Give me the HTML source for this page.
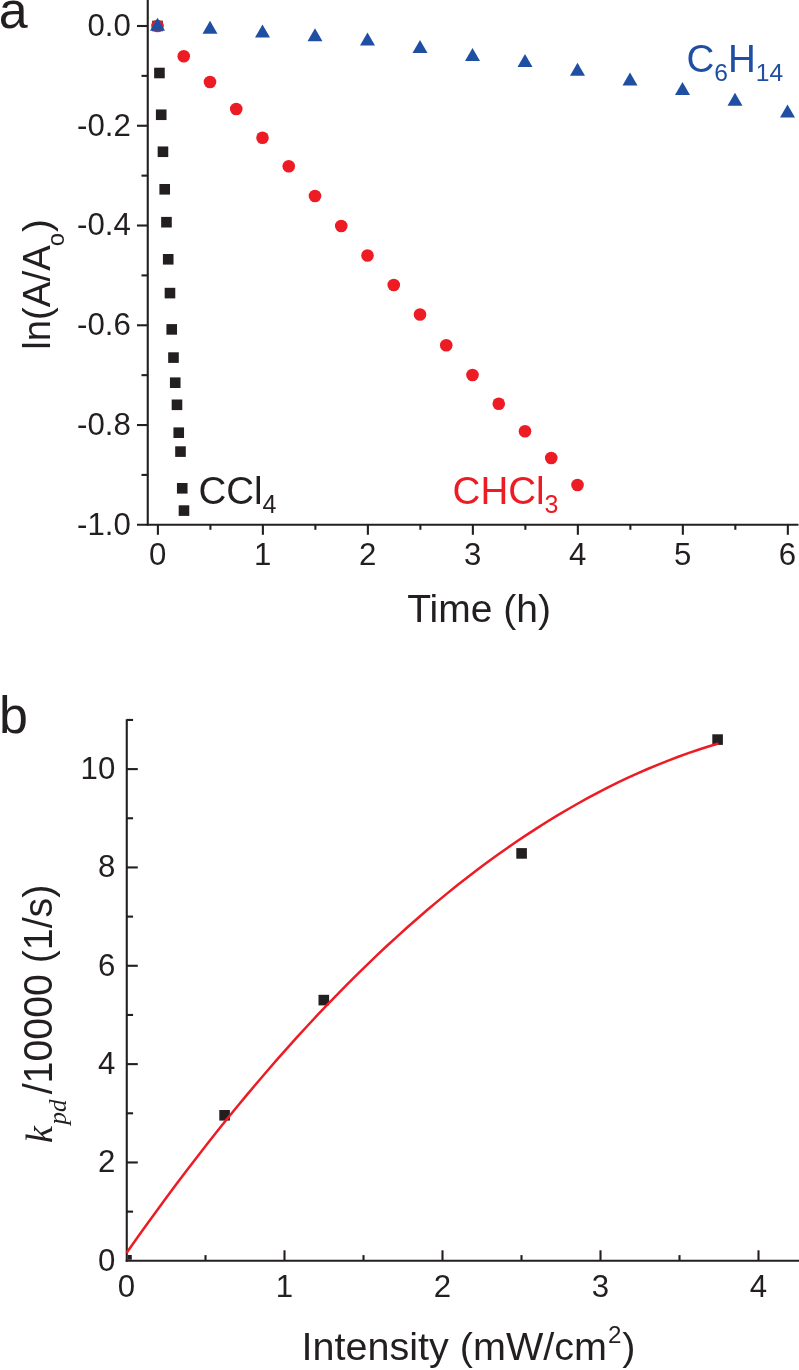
<!DOCTYPE html>
<html><head><meta charset="utf-8"><title>Figure</title>
<style>
html,body{margin:0;padding:0;background:#fff;}
svg{display:block;font-family:"Liberation Sans", Arial, Helvetica, sans-serif;will-change:transform;}
</style></head><body>
<svg width="799" height="1370" viewBox="0 0 799 1370">
<rect width="799" height="1370" fill="#fff"/>
<line x1="147.75" y1="0.00" x2="147.75" y2="525.82" stroke="#231f20" stroke-width="2.1" />
<line x1="137.00" y1="524.77" x2="798.50" y2="524.77" stroke="#231f20" stroke-width="2.1" />
<line x1="137.00" y1="26.00" x2="147.75" y2="26.00" stroke="#231f20" stroke-width="2.1" />
<line x1="141.50" y1="75.88" x2="147.75" y2="75.88" stroke="#231f20" stroke-width="2.1" />
<line x1="137.00" y1="125.76" x2="147.75" y2="125.76" stroke="#231f20" stroke-width="2.1" />
<line x1="141.50" y1="175.64" x2="147.75" y2="175.64" stroke="#231f20" stroke-width="2.1" />
<line x1="137.00" y1="225.52" x2="147.75" y2="225.52" stroke="#231f20" stroke-width="2.1" />
<line x1="141.50" y1="275.40" x2="147.75" y2="275.40" stroke="#231f20" stroke-width="2.1" />
<line x1="137.00" y1="325.28" x2="147.75" y2="325.28" stroke="#231f20" stroke-width="2.1" />
<line x1="141.50" y1="375.16" x2="147.75" y2="375.16" stroke="#231f20" stroke-width="2.1" />
<line x1="137.00" y1="425.04" x2="147.75" y2="425.04" stroke="#231f20" stroke-width="2.1" />
<line x1="141.50" y1="474.92" x2="147.75" y2="474.92" stroke="#231f20" stroke-width="2.1" />
<line x1="157.90" y1="524.77" x2="157.90" y2="534.80" stroke="#231f20" stroke-width="2.1" />
<line x1="210.40" y1="524.77" x2="210.40" y2="529.80" stroke="#231f20" stroke-width="2.1" />
<line x1="262.89" y1="524.77" x2="262.89" y2="534.80" stroke="#231f20" stroke-width="2.1" />
<line x1="315.38" y1="524.77" x2="315.38" y2="529.80" stroke="#231f20" stroke-width="2.1" />
<line x1="367.88" y1="524.77" x2="367.88" y2="534.80" stroke="#231f20" stroke-width="2.1" />
<line x1="420.38" y1="524.77" x2="420.38" y2="529.80" stroke="#231f20" stroke-width="2.1" />
<line x1="472.87" y1="524.77" x2="472.87" y2="534.80" stroke="#231f20" stroke-width="2.1" />
<line x1="525.37" y1="524.77" x2="525.37" y2="529.80" stroke="#231f20" stroke-width="2.1" />
<line x1="577.86" y1="524.77" x2="577.86" y2="534.80" stroke="#231f20" stroke-width="2.1" />
<line x1="630.36" y1="524.77" x2="630.36" y2="529.80" stroke="#231f20" stroke-width="2.1" />
<line x1="682.85" y1="524.77" x2="682.85" y2="534.80" stroke="#231f20" stroke-width="2.1" />
<line x1="735.34" y1="524.77" x2="735.34" y2="529.80" stroke="#231f20" stroke-width="2.1" />
<line x1="787.84" y1="524.77" x2="787.84" y2="534.80" stroke="#231f20" stroke-width="2.1" />
<text transform="translate(130.80 35.80) scale(1 1.03)" font-size="31.2" text-anchor="end" fill="#231f20" >0.0</text>
<text transform="translate(130.80 135.56) scale(1 1.03)" font-size="31.2" text-anchor="end" fill="#231f20" >-0.2</text>
<text transform="translate(130.80 235.32) scale(1 1.03)" font-size="31.2" text-anchor="end" fill="#231f20" >-0.4</text>
<text transform="translate(130.80 335.08) scale(1 1.03)" font-size="31.2" text-anchor="end" fill="#231f20" >-0.6</text>
<text transform="translate(130.80 434.84) scale(1 1.03)" font-size="31.2" text-anchor="end" fill="#231f20" >-0.8</text>
<text transform="translate(130.80 534.60) scale(1 1.03)" font-size="31.2" text-anchor="end" fill="#231f20" >-1.0</text>
<text transform="translate(157.60 565.30) scale(1 1.03)" font-size="31.2" text-anchor="middle" fill="#231f20" >0</text>
<text transform="translate(262.59 565.30) scale(1 1.03)" font-size="31.2" text-anchor="middle" fill="#231f20" >1</text>
<text transform="translate(367.58 565.30) scale(1 1.03)" font-size="31.2" text-anchor="middle" fill="#231f20" >2</text>
<text transform="translate(472.57 565.30) scale(1 1.03)" font-size="31.2" text-anchor="middle" fill="#231f20" >3</text>
<text transform="translate(577.56 565.30) scale(1 1.03)" font-size="31.2" text-anchor="middle" fill="#231f20" >4</text>
<text transform="translate(682.55 565.30) scale(1 1.03)" font-size="31.2" text-anchor="middle" fill="#231f20" >5</text>
<text transform="translate(787.54 565.30) scale(1 1.03)" font-size="31.2" text-anchor="middle" fill="#231f20" >6</text>
<text transform="translate(-1.30 28.00) scale(1 1.0)" font-size="52" text-anchor="start" fill="#231f20" >a</text>
<text transform="translate(407.20 622.00) scale(1 1.0)" font-size="39.0" text-anchor="start" fill="#231f20" >Time (h)</text>
<text transform="translate(50.1 349.8) rotate(-90)" font-size="38.4" fill="#231f20">ln(A/A<tspan font-size="24" dy="13.6" dx="-1">o</tspan><tspan dy="-13.6" dx="1">)</tspan></text>
<rect x="152.20" y="20.70" width="10.6" height="10.6" fill="#231f20"/>
<rect x="154.15" y="67.70" width="10.6" height="10.6" fill="#231f20"/>
<rect x="155.91" y="109.45" width="10.6" height="10.6" fill="#231f20"/>
<rect x="157.66" y="146.45" width="10.6" height="10.6" fill="#231f20"/>
<rect x="159.41" y="184.00" width="10.6" height="10.6" fill="#231f20"/>
<rect x="161.16" y="216.90" width="10.6" height="10.6" fill="#231f20"/>
<rect x="162.92" y="254.00" width="10.6" height="10.6" fill="#231f20"/>
<rect x="164.67" y="287.80" width="10.6" height="10.6" fill="#231f20"/>
<rect x="166.42" y="324.10" width="10.6" height="10.6" fill="#231f20"/>
<rect x="168.18" y="352.30" width="10.6" height="10.6" fill="#231f20"/>
<rect x="169.93" y="377.40" width="10.6" height="10.6" fill="#231f20"/>
<rect x="171.68" y="399.50" width="10.6" height="10.6" fill="#231f20"/>
<rect x="173.44" y="427.40" width="10.6" height="10.6" fill="#231f20"/>
<rect x="175.19" y="446.30" width="10.6" height="10.6" fill="#231f20"/>
<rect x="176.94" y="483.00" width="10.6" height="10.6" fill="#231f20"/>
<rect x="178.69" y="505.30" width="10.6" height="10.6" fill="#231f20"/>
<circle cx="157.50" cy="26.00" r="6.3" fill="#ed1c24"/>
<circle cx="183.75" cy="56.25" r="6.3" fill="#ed1c24"/>
<circle cx="210.00" cy="82.00" r="6.3" fill="#ed1c24"/>
<circle cx="236.25" cy="109.00" r="6.3" fill="#ed1c24"/>
<circle cx="262.50" cy="137.75" r="6.3" fill="#ed1c24"/>
<circle cx="288.75" cy="166.30" r="6.3" fill="#ed1c24"/>
<circle cx="315.00" cy="196.00" r="6.3" fill="#ed1c24"/>
<circle cx="341.25" cy="226.00" r="6.3" fill="#ed1c24"/>
<circle cx="367.50" cy="255.50" r="6.3" fill="#ed1c24"/>
<circle cx="393.75" cy="285.00" r="6.3" fill="#ed1c24"/>
<circle cx="420.00" cy="314.50" r="6.3" fill="#ed1c24"/>
<circle cx="446.25" cy="345.25" r="6.3" fill="#ed1c24"/>
<circle cx="472.50" cy="375.00" r="6.3" fill="#ed1c24"/>
<circle cx="498.75" cy="403.75" r="6.3" fill="#ed1c24"/>
<circle cx="525.00" cy="431.25" r="6.3" fill="#ed1c24"/>
<circle cx="551.25" cy="458.00" r="6.3" fill="#ed1c24"/>
<circle cx="577.50" cy="485.00" r="6.3" fill="#ed1c24"/>
<polygon points="150.00,30.75 165.00,30.75 157.50,17.75" fill="#1f4fa2"/>
<polygon points="202.50,33.75 217.50,33.75 210.00,20.75" fill="#1f4fa2"/>
<polygon points="255.00,37.50 270.00,37.50 262.50,24.50" fill="#1f4fa2"/>
<polygon points="307.50,41.25 322.50,41.25 315.00,28.25" fill="#1f4fa2"/>
<polygon points="360.00,45.40 375.00,45.40 367.50,32.40" fill="#1f4fa2"/>
<polygon points="412.50,53.00 427.50,53.00 420.00,40.00" fill="#1f4fa2"/>
<polygon points="465.00,60.90 480.00,60.90 472.50,47.90" fill="#1f4fa2"/>
<polygon points="517.50,67.00 532.50,67.00 525.00,54.00" fill="#1f4fa2"/>
<polygon points="570.00,75.80 585.00,75.80 577.50,62.80" fill="#1f4fa2"/>
<polygon points="622.50,85.50 637.50,85.50 630.00,72.50" fill="#1f4fa2"/>
<polygon points="675.00,95.00 690.00,95.00 682.50,82.00" fill="#1f4fa2"/>
<polygon points="727.50,105.75 742.50,105.75 735.00,92.75" fill="#1f4fa2"/>
<polygon points="780.00,117.50 795.00,117.50 787.50,104.50" fill="#1f4fa2"/>
<text x="198.40" y="503.80" font-size="38.5" fill="#231f20">CCl<tspan font-size="25" dy="9.0">4</tspan></text>
<text x="452.60" y="503.80" font-size="38.5" fill="#ed1c24">CHCl<tspan font-size="25" dy="9.0">3</tspan></text>
<text x="686.40" y="72.40" font-size="38.5" fill="#1f4fa2">C<tspan font-size="24.6" dy="8.7">6</tspan><tspan dy="-8.7">H</tspan><tspan font-size="24.6" dy="8.7">14</tspan></text>
<line x1="126.77" y1="719.20" x2="126.77" y2="1261.75" stroke="#231f20" stroke-width="2.1" />
<line x1="125.72" y1="1260.70" x2="799.00" y2="1260.70" stroke="#231f20" stroke-width="2.1" />
<line x1="126.77" y1="1211.63" x2="133.07" y2="1211.63" stroke="#231f20" stroke-width="2.1" />
<line x1="126.77" y1="1162.46" x2="137.77" y2="1162.46" stroke="#231f20" stroke-width="2.1" />
<line x1="126.77" y1="1113.29" x2="133.07" y2="1113.29" stroke="#231f20" stroke-width="2.1" />
<line x1="126.77" y1="1064.12" x2="137.77" y2="1064.12" stroke="#231f20" stroke-width="2.1" />
<line x1="126.77" y1="1014.95" x2="133.07" y2="1014.95" stroke="#231f20" stroke-width="2.1" />
<line x1="126.77" y1="965.78" x2="137.77" y2="965.78" stroke="#231f20" stroke-width="2.1" />
<line x1="126.77" y1="916.61" x2="133.07" y2="916.61" stroke="#231f20" stroke-width="2.1" />
<line x1="126.77" y1="867.44" x2="137.77" y2="867.44" stroke="#231f20" stroke-width="2.1" />
<line x1="126.77" y1="818.27" x2="133.07" y2="818.27" stroke="#231f20" stroke-width="2.1" />
<line x1="126.77" y1="769.10" x2="137.77" y2="769.10" stroke="#231f20" stroke-width="2.1" />
<line x1="126.77" y1="719.93" x2="133.07" y2="719.93" stroke="#231f20" stroke-width="2.1" />
<line x1="205.50" y1="1260.70" x2="205.50" y2="1255.10" stroke="#231f20" stroke-width="2.1" />
<line x1="284.50" y1="1260.70" x2="284.50" y2="1250.30" stroke="#231f20" stroke-width="2.1" />
<line x1="363.50" y1="1260.70" x2="363.50" y2="1255.10" stroke="#231f20" stroke-width="2.1" />
<line x1="442.50" y1="1260.70" x2="442.50" y2="1250.30" stroke="#231f20" stroke-width="2.1" />
<line x1="521.50" y1="1260.70" x2="521.50" y2="1255.10" stroke="#231f20" stroke-width="2.1" />
<line x1="600.50" y1="1260.70" x2="600.50" y2="1250.30" stroke="#231f20" stroke-width="2.1" />
<line x1="679.50" y1="1260.70" x2="679.50" y2="1255.10" stroke="#231f20" stroke-width="2.1" />
<line x1="758.50" y1="1260.70" x2="758.50" y2="1250.30" stroke="#231f20" stroke-width="2.1" />
<text transform="translate(115.30 1270.60) scale(1 1.03)" font-size="31.2" text-anchor="end" fill="#231f20" >0</text>
<text transform="translate(115.30 1172.26) scale(1 1.03)" font-size="31.2" text-anchor="end" fill="#231f20" >2</text>
<text transform="translate(115.30 1073.92) scale(1 1.03)" font-size="31.2" text-anchor="end" fill="#231f20" >4</text>
<text transform="translate(115.30 975.58) scale(1 1.03)" font-size="31.2" text-anchor="end" fill="#231f20" >6</text>
<text transform="translate(115.30 877.24) scale(1 1.03)" font-size="31.2" text-anchor="end" fill="#231f20" >8</text>
<text transform="translate(115.30 778.90) scale(1 1.03)" font-size="31.2" text-anchor="end" fill="#231f20" >10</text>
<text transform="translate(126.50 1297.00) scale(1 1.03)" font-size="31.2" text-anchor="middle" fill="#231f20" >0</text>
<text transform="translate(284.50 1297.00) scale(1 1.03)" font-size="31.2" text-anchor="middle" fill="#231f20" >1</text>
<text transform="translate(442.50 1297.00) scale(1 1.03)" font-size="31.2" text-anchor="middle" fill="#231f20" >2</text>
<text transform="translate(600.50 1297.00) scale(1 1.03)" font-size="31.2" text-anchor="middle" fill="#231f20" >3</text>
<text transform="translate(758.50 1297.00) scale(1 1.03)" font-size="31.2" text-anchor="middle" fill="#231f20" >4</text>
<text transform="translate(-1.00 733.00) scale(1 1.0)" font-size="52" text-anchor="start" fill="#231f20" >b</text>
<text x="301.5" y="1360.2" font-size="39.55" fill="#231f20">Intensity (mW/cm<tspan font-size="24.2" dy="-17.4" dx="1">2</tspan><tspan dy="17.4" dx="0.8">)</tspan></text>
<text transform="translate(51.5 1143.0) rotate(-90)" font-family='"Liberation Serif", "Times New Roman", serif' font-style="italic" font-size="38" fill="#231f20">k</text>
<text transform="translate(65.7 1124.6) rotate(-90)" font-family='"Liberation Serif", "Times New Roman", serif' font-style="italic" font-size="25" fill="#231f20">pd</text>
<text transform="translate(51.5 1094.3) rotate(-90) scale(1 1.04)" font-size="39.3" fill="#231f20">/10000 (1/s)</text>
<clipPath id="cb"><rect x="127.8" y="700" width="680" height="559.85"/></clipPath>
<rect x="121.20" y="1255.00" width="10.6" height="10.6" fill="#231f20" clip-path="url(#cb)"/>
<rect x="219.30" y="1110.00" width="10.6" height="10.6" fill="#231f20" clip-path="url(#cb)"/>
<rect x="318.50" y="994.80" width="10.6" height="10.6" fill="#231f20" clip-path="url(#cb)"/>
<rect x="516.30" y="848.10" width="10.6" height="10.6" fill="#231f20" clip-path="url(#cb)"/>
<rect x="712.30" y="734.30" width="10.6" height="10.6" fill="#231f20" clip-path="url(#cb)"/>
<polyline points="126.50,1253.07 136.53,1238.82 146.56,1224.77 156.60,1210.91 166.63,1197.24 176.66,1183.77 186.69,1170.49 196.73,1157.40 206.76,1144.51 216.79,1131.81 226.82,1119.31 236.85,1106.99 246.89,1094.88 256.92,1082.95 266.95,1071.22 276.98,1059.68 287.02,1048.34 297.05,1037.18 307.08,1026.23 317.11,1015.46 327.14,1004.89 337.18,994.51 347.21,984.33 357.24,974.34 367.27,964.54 377.31,954.94 387.34,945.53 397.37,936.31 407.40,927.29 417.43,918.46 427.47,909.82 437.50,901.38 447.53,893.13 457.56,885.07 467.59,877.21 477.63,869.54 487.66,862.07 497.69,854.79 507.72,847.70 517.76,840.80 527.79,834.10 537.82,827.59 547.85,821.28 557.88,815.16 567.92,809.23 577.95,803.49 587.98,797.95 598.01,792.61 608.05,787.45 618.08,782.49 628.11,777.72 638.14,773.15 648.17,768.77 658.21,764.58 668.24,760.59 678.27,756.79 688.30,753.19 698.34,749.77 708.37,746.55 718.40,743.53" fill="none" stroke="#ed1c24" stroke-width="2.5" stroke-linejoin="round"/>
</svg>
</body></html>
